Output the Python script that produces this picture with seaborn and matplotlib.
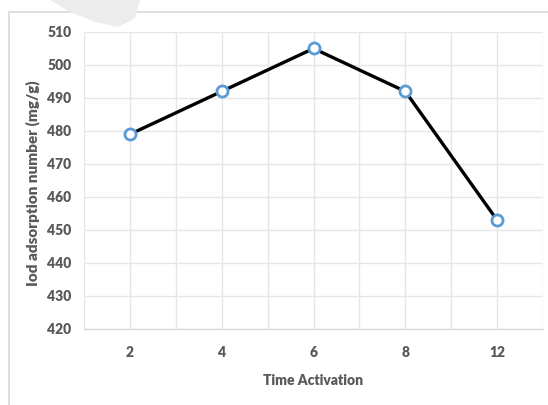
import pandas as pd
import numpy as np
import matplotlib
matplotlib.use("Agg")
import matplotlib.pyplot as plt
import seaborn as sns
from matplotlib.patches import Rectangle, Polygon

sns.set_theme(style="white")
plt.rcParams['font.family'] = ['Lato', 'DejaVu Sans']

# data
time_activation = ['2', '4', '6', '8', '12']
iod_number = [479, 492, 505, 492, 453]

df = pd.DataFrame({'time': time_activation, 'iod': iod_number})

text_color = '#595959'
grid_color = '#e6e6e6'
marker_edge = '#5b9bd5'

fig = plt.figure(figsize=(5.48, 4.05), dpi=100)
ax = fig.add_axes([84 / 548, 1 - 329 / 405, 459 / 548, 297 / 405])

# outer chart frame + faint watermark shape at the top
fig.patches.append(Rectangle((9 / 548, -0.1), 1.2, 1 - 12 / 405 + 0.1, transform=fig.transFigure,
                             fill=False, edgecolor='#d9d9d9', linewidth=1.2))
fig.patches.append(Polygon([(50 / 548, 1.0), (140 / 548, 1.0), (135 / 548, 1 - 18 / 405),
                            (118 / 548, 1 - 27 / 405), (95 / 548, 1 - 22 / 405), (70 / 548, 1 - 12 / 405)],
                           closed=True, transform=fig.transFigure, facecolor='#ececec', edgecolor='none'))

sns.lineplot(data=df, x='time', y='iod', ax=ax, color='black', linewidth=2.4, sort=False,
             marker='o', markersize=8, markerfacecolor='white', markeredgecolor=marker_edge,
             markeredgewidth=2)

ax.set_ylim(420, 510)
ax.set_yticks(np.arange(420, 511, 10))
ax.set_xlim(-0.5, len(time_activation) - 0.5)
ax.set_xticks(range(len(time_activation)))
ax.set_xticklabels(time_activation)

# major grid at categories, minor grid at category boundaries
ax.set_xticks(np.arange(-0.5, len(time_activation), 1), minor=True)
ax.grid(True, which='major', color=grid_color, linewidth=1)
ax.grid(True, which='minor', axis='x', color=grid_color, linewidth=1)
ax.tick_params(which='both', length=0)
ax.tick_params(axis='x', pad=12, labelsize=10, labelcolor=text_color)
ax.tick_params(axis='y', pad=9, labelsize=10, labelcolor=text_color)
for lab in ax.get_xticklabels() + ax.get_yticklabels():
    lab.set_fontweight('heavy')

for side in ['top', 'right', 'left']:
    ax.spines[side].set_visible(False)
ax.spines['bottom'].set_color('#d9d9d9')
ax.spines['bottom'].set_linewidth(1)

ax.set_xlabel('Time Activation', fontsize=10, fontweight='heavy', color=text_color, labelpad=11)
ax.set_ylabel('Iod adsorption number (mg/g)', fontsize=11, fontweight='heavy', color=text_color)
ax.yaxis.set_label_coords(-0.095, 0.49)

fig.savefig('out.png', dpi=100)
